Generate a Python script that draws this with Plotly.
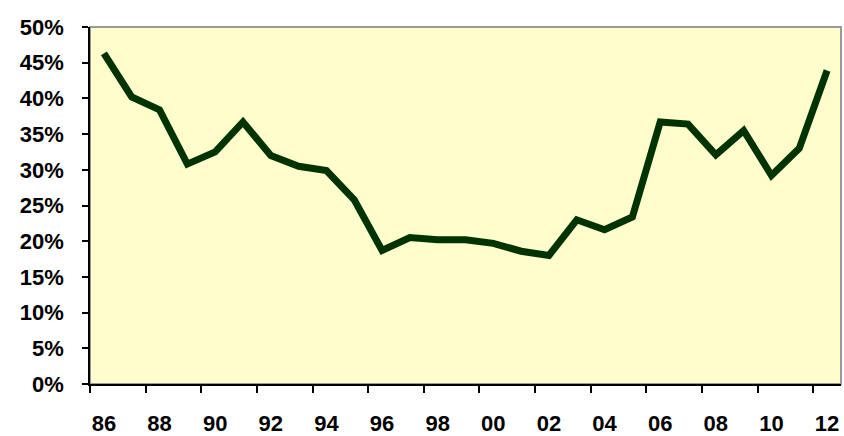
import plotly.graph_objects as go

years = ["86", "87", "88", "89", "90", "91", "92", "93", "94", "95", "96", "97", "98", "99",
         "00", "01", "02", "03", "04", "05", "06", "07", "08", "09", "10", "11", "12"]
values = [46.3, 40.2, 38.4, 30.8, 32.5, 36.7, 32.0, 30.5, 29.9, 25.8, 18.7, 20.5, 20.2, 20.2,
          19.7, 18.6, 18.0, 23.0, 21.6, 23.4, 36.7, 36.4, 32.1, 35.5, 29.2, 33.0, 43.9]
tick_labels = years[::2]

xidx = list(range(len(years)))

fig = go.Figure()
fig.add_trace(go.Scatter(
    x=xidx, y=values, mode="lines",
    line=dict(color="#003300", width=7),
    hoverinfo="skip",
))

font = dict(family="Arial, 'Liberation Sans', sans-serif", size=22, color="#000000", weight="bold")

fig.update_layout(
    width=844, height=436,
    margin=dict(l=90, r=3, t=27, b=52),
    paper_bgcolor="white",
    plot_bgcolor="#FFFDCC",
    showlegend=False,
    xaxis=dict(
        automargin=False,
        range=[-0.5, len(years) - 0.5],
        tickmode="array",
        tickvals=xidx[::2],
        ticktext=tick_labels,
        ticks="",
        ticklabelstandoff=19,
        tickfont=font,
        showgrid=False, zeroline=False,
        showline=True, linecolor="#000000", linewidth=1.5,
        minor=dict(tick0=-0.5, dtick=2, ticks="outside", ticklen=7,
                   tickcolor="#000000", tickwidth=1.5, showgrid=False),
    ),
    yaxis=dict(
        automargin=False,
        range=[0, 50],
        dtick=5,
        ticksuffix="%",
        ticks="outside", ticklen=6, tickcolor="#000000", tickwidth=1.5,
        ticklabelstandoff=14,
        tickfont=font,
        showgrid=False, zeroline=False,
        showline=True, linecolor="#000000", linewidth=1.5,
    ),
    shapes=[dict(type="rect", xref="x domain", yref="y domain", x0=0, x1=1, y0=0, y1=1,
                 line=dict(color="#9a9a9a", width=2), layer="below")],
)

fig.write_html("out.html", config={"displayModeBar": False},
               post_script="document.body.style.margin='0px';document.body.style.overflow='hidden';")
